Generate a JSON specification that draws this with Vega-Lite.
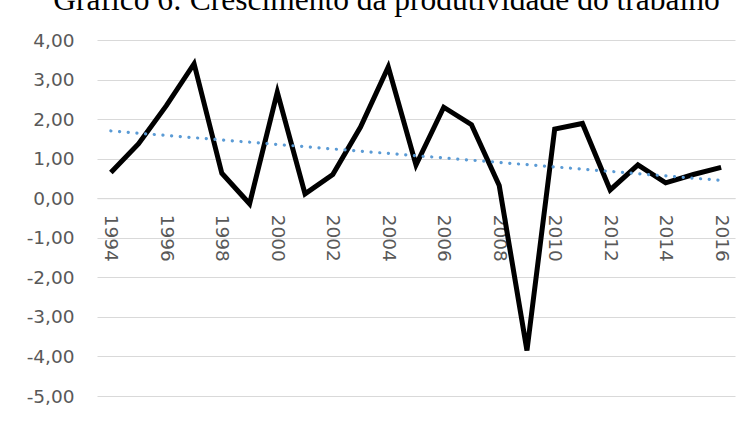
{
  "$schema": "https://vega.github.io/schema/vega-lite/v6.json",
  "autosize": {"type": "none"},
  "padding": {"left": 97, "top": 40, "right": 17, "bottom": 25},
  "width": 638,
  "height": 356,
  "background": "white",
  "title": {
    "text": "Gráfico 6: Crescimento da produtividade do trabalho",
    "font": "Liberation Serif",
    "fontSize": 31.5,
    "fontWeight": "normal",
    "color": "#000000",
    "anchor": "middle",
    "baseline": "alphabetic",
    "offset": -10,
    "dx": -29.5
  },
  "data": {
    "values": [
      {"year": 1994, "value": 0.65, "trend": 1.70},
      {"year": 1995, "value": 1.38, "trend": null},
      {"year": 1996, "value": 2.34, "trend": null},
      {"year": 1997, "value": 3.40, "trend": null},
      {"year": 1998, "value": 0.63, "trend": null},
      {"year": 1999, "value": -0.14, "trend": null},
      {"year": 2000, "value": 2.68, "trend": null},
      {"year": 2001, "value": 0.11, "trend": null},
      {"year": 2002, "value": 0.60, "trend": null},
      {"year": 2003, "value": 1.80, "trend": null},
      {"year": 2004, "value": 3.32, "trend": null},
      {"year": 2005, "value": 0.84, "trend": null},
      {"year": 2006, "value": 2.30, "trend": null},
      {"year": 2007, "value": 1.86, "trend": null},
      {"year": 2008, "value": 0.32, "trend": null},
      {"year": 2009, "value": -3.85, "trend": null},
      {"year": 2010, "value": 1.75, "trend": null},
      {"year": 2011, "value": 1.89, "trend": null},
      {"year": 2012, "value": 0.21, "trend": null},
      {"year": 2013, "value": 0.84, "trend": null},
      {"year": 2014, "value": 0.39, "trend": null},
      {"year": 2015, "value": 0.60, "trend": null},
      {"year": 2016, "value": 0.78, "trend": 0.45}
    ]
  },
  "layer": [
    {
      "mark": {"type": "line", "color": "#000000", "strokeWidth": 5, "strokeJoin": "miter"},
      "encoding": {
        "x": {
          "field": "year",
          "type": "ordinal",
          "scale": {"type": "point", "padding": 0.5},
          "axis": {
            "title": null,
            "values": [1994, 1996, 1998, 2000, 2002, 2004, 2006, 2008, 2010, 2012, 2014, 2016],
            "tickCount": 40,
            "labelAngle": 90,
            "labelAlign": "left",
            "labelBaseline": "middle",
            "labelPadding": 16,
            "labelFont": "DejaVu Sans",
            "labelFontSize": 18.5,
            "labelColor": "#595959",
            "labelOverlap": false,
            "ticks": false,
            "domain": true,
            "domainColor": "#d9d9d9",
            "domainWidth": 1,
            "offset": -197.8,
            "grid": false
          }
        },
        "y": {
          "field": "value",
          "type": "quantitative",
          "scale": {"domain": [-5, 4], "nice": false, "zero": false},
          "axis": {
            "title": null,
            "values": [-5, -4, -3, -2, -1, 0, 1, 2, 3, 4],
            "tickCount": 20,
            "labelExpr": "(datum.value < 0 ? '-' : '') + replace(format(abs(datum.value), '.2f'), '.', ',')",
            "labelFont": "DejaVu Sans",
            "labelFontSize": 18.5,
            "labelColor": "#595959",
            "labelPadding": 23,
            "labelOverlap": false,
            "labelFlush": false,
            "ticks": false,
            "domain": false,
            "grid": true,
            "gridColor": "#d9d9d9",
            "gridWidth": 1
          }
        }
      }
    },
    {
      "transform": [{"filter": "datum.trend != null"}],
      "mark": {"type": "line", "color": "#5b9bd5", "strokeWidth": 3.2, "strokeCap": "round", "strokeDash": [0.1, 8.6]},
      "encoding": {
        "x": {"field": "year", "type": "ordinal"},
        "y": {"field": "trend", "type": "quantitative"}
      }
    }
  ],
  "config": {
    "view": {"stroke": null}
  }
}
